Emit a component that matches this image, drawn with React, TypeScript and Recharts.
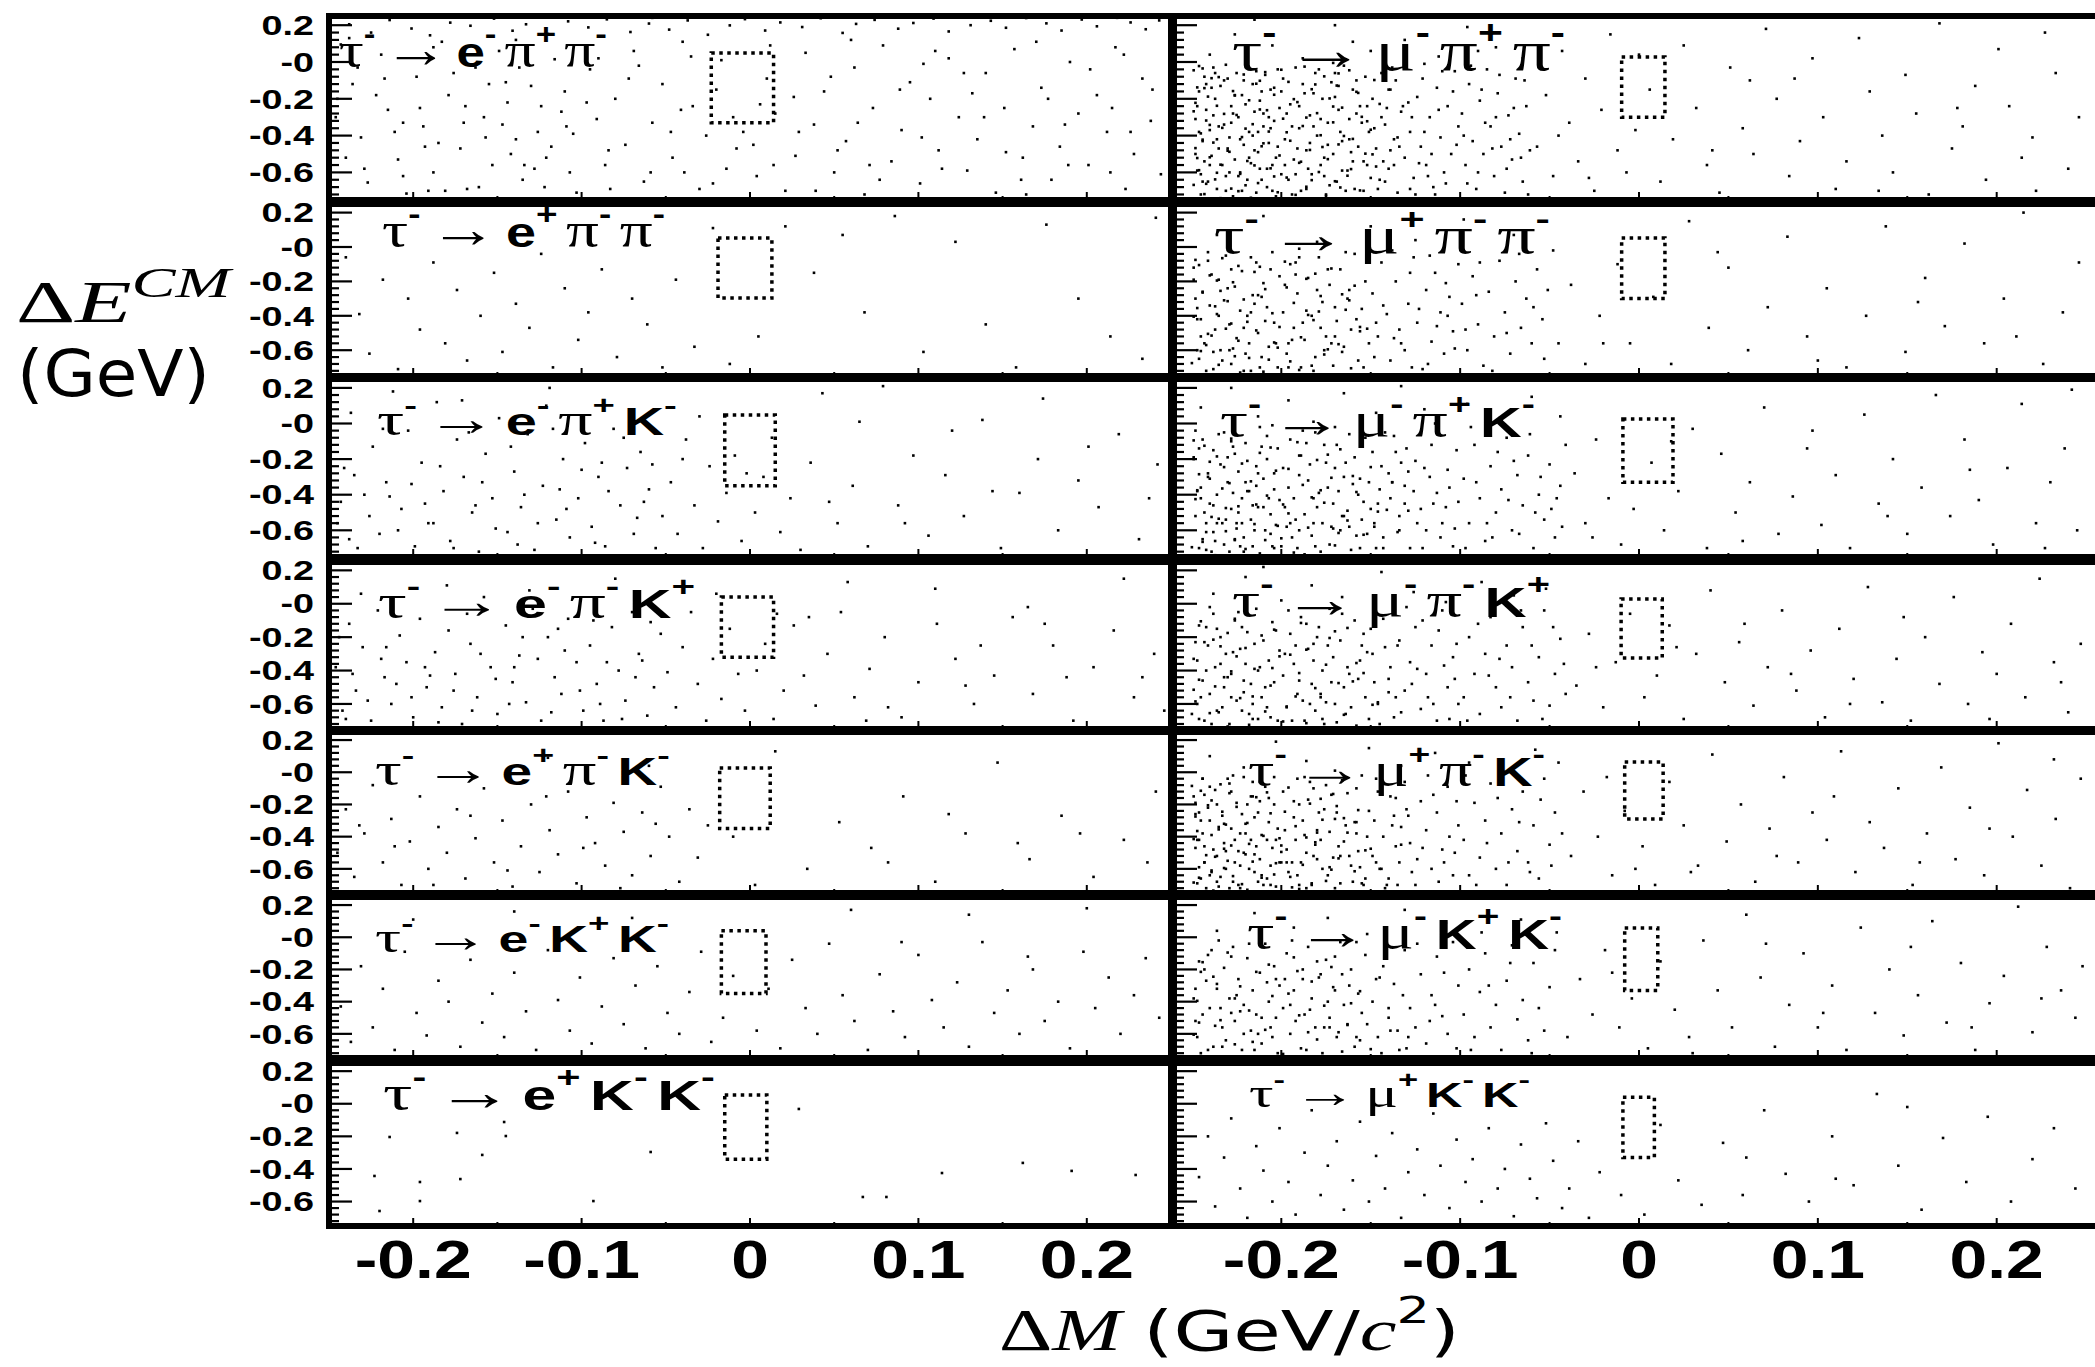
import React, { useLayoutEffect, useRef, useState } from 'react';
import { ScatterChart, Scatter, XAxis, YAxis, ReferenceArea } from 'recharts';

// ---------------- axes (GeV) ----------------
const dMDomainE = [-0.25, 0.25];
const dMDomainMu = [-0.26, 0.26];
const dEDomain = [-0.75, 0.25];
const dMTicks = [-0.2, -0.15, -0.1, -0.05, 0, 0.05, 0.1, 0.15, 0.2];
const dMLabelled = [-0.2, -0.1, 0, 0.1, 0.2];
const dETicks = [0.24, 0.2, 0.16, 0.12, 0.08, 0.04, 0, -0.04, -0.08, -0.12, -0.16, -0.2, -0.24, -0.28, -0.32, -0.36, -0.4, -0.44, -0.48, -0.52, -0.56, -0.6, -0.64, -0.68, -0.72];
const dELabelled = [0.2, 0, -0.2, -0.4, -0.6];

// ---------------- signal boxes [dM lo, dM hi, dE lo, dE hi] (GeV) ----------------
const boxEPiPlusPiMinus = [-0.023, 0.014, -0.33, 0.049];
const boxEPlusPiMinusPiMinus = [-0.019, 0.013, -0.297, 0.052];
const boxEPiPlusKMinus = [-0.015, 0.015, -0.35, 0.048];
const boxEPiMinusKPlus = [-0.017, 0.014, -0.32, 0.04];
const boxEPlusPiMinusKMinus = [-0.018, 0.012, -0.35, 0.026];
const boxEKPlusKMinus = [-0.017, 0.0095, -0.35, 0.04];
const boxEPlusKMinusKMinus = [-0.015, 0.01, -0.34, 0.054];
const boxMuPiPlusPiMinus = [-0.0097, 0.0145, -0.3, 0.027];
const boxMuPlusPiMinusPiMinus = [-0.0097, 0.0145, -0.3, 0.052];
const boxMuPiPlusKMinus = [-0.009, 0.019, -0.33, 0.025];
const boxMuPiMinusKPlus = [-0.01, 0.013, -0.325, 0.028];
const boxMuPlusPiMinusKMinus = [-0.008, 0.0135, -0.29, 0.064];
const boxMuKPlusKMinus = [-0.008, 0.0105, -0.33, 0.057];
const boxMuPlusKMinusKMinus = [-0.009, 0.0086, -0.33, 0.04];

// ---------------- candidate events [dM, dE] in MeV ----------------
const evEPiPlusPiMinus = [
[-238,205],[-225,160],[-214,228],[-201,182],[-190,145],[-178,214],[-166,197],[-152,236],[-141,170],[-133,205],[-120,152],[-108,221],[-96,188],[-85,232],[-71,163],[-60,209],[-48,176],[-37,226],[-25,148],[-12,199],[-3,233],[9,171],[18,215],[31,190],[42,238],[55,158],[63,207],[74,229],[88,181],[97,212],[109,236],[118,166],[131,200],[143,224],[152,186],[164,239],[176,210],[185,171],[197,231],[206,194],[218,240],[226,215],[235,178],[243,226],[-58,240],
[-243,95],[-236,-120],[-231,-410],[-227,-655],[-219,40],[-215,-260],[-209,-530],[-204,-715],[-198,-80],[-194,-350],[-188,-600],[-183,110],[-179,-180],[-172,-470],[-168,-690],[-163,-30],[-158,-300],[-153,-560],[-149,60],[-144,-220],[-139,-420],[-135,-640],[-130,-130],[-126,-380],[-121,-520],[-116,15],[-112,-270],[-107,-600],[-103,-710],[-246,-300],[-240,-520],[-222,-180],[-211,-380],[-196,-250],[-185,-440],[-176,-60],[-161,-680],[-147,-340],[-137,-30],[-128,-580],[-118,-460],[-110,-160],[-233,-30],[-206,-620],[-191,-700],[-170,-330],[-155,-120],[-142,-500],[-124,-240],[-105,-390],
[-95,-40],[-91,-310],[-86,-560],[-80,-200],[-74,-450],[-69,60],[-63,-650],[-58,-330],[-52,-120],[-46,-520],[-41,-260],[-35,30],[-30,-690],[-26,-400],[-20,-150],[-14,-580],[-8,-470],[-4,-380],[4,-620],[10,-90],[15,-280],[21,-700],[27,-510],[33,50],[38,-340],[44,-160],[50,-600],[57,-430],[62,-30],[68,-720],[73,-250],[79,90],[84,-540],[90,-370],[95,-110],[101,-660],[107,-200],[112,-480],[118,20],[124,-300],[129,-590],[135,-420],[140,-60],[146,-710],[151,-250],[157,70],[162,-520],[168,-350],[173,-140],[179,-640],[184,-460],[190,0],[195,-280],[201,-560],[206,-180],[212,-380],[217,80],[223,-690],[228,-500],[233,-90],[238,-320],[244,-610],[-83,-690],[-66,-20],[-39,-600],[-17,10],[6,-230],[29,-380],[48,-80],[71,-560],[103,-10],[132,-170],[161,-640],[187,-340],[215,-250],
[-245,-200],[-229,-580],[-217,-90],[-206,-330],[-193,-460],[-181,-700],[-169,-240],[-157,-410],[-145,-110],[-134,-560],[-122,-680],[-109,-350],[-97,-220],[-84,-480],[-72,-90],[-59,-600],[-47,-380],[-34,-240],[-22,-660],[-10,-300],[2,-450],[14,-560],[26,-190],[39,-700],[52,-480],[64,-330],[77,-640],[89,-150],[102,-410],[114,-580],[127,-60],[139,-300],[152,-490],[164,-720],[177,-200],[189,-560],[202,-40],[214,-600],[226,-380],[239,-150],[-238,130],[-188,80],[-139,120],[-90,20],[-40,110],[12,90],[60,120],[110,60],[170,110],[222,40]
];
const evEPlusPiMinusPiMinus = [
[-240,-60],[-232,-390],[-226,-620],[-218,-190],[-209,-710],[-203,-300],[-196,-480],[-188,-90],[-181,-560],[-174,-250],[-168,-660],[-160,-400],[-152,-150],[-147,-610],[-139,-330],[-131,-470],[-124,-40],[-117,-700],[-110,-240],[-102,-540],[-96,-380],[-88,-130],[-79,-640],[-70,-300],[-61,-450],[-52,-700],[-44,-190],[-33,-580],[-22,110],[-12,-680],[5,-520],[21,120],[38,-150],[55,70],[68,-380],[86,180],[103,-610],[122,30],[140,-450],[158,-700],[176,130],[195,-300],[214,-520],[233,-650],[241,170]
];
const evEPiPlusKMinus = [
[-245,-560],[-241,-250],[-237,60],[-233,-700],[-229,-400],[-224,-130],[-220,-620],[-216,-330],[-212,180],[-207,-480],[-203,-40],[-199,-690],[-195,-220],[-191,-560],[-186,120],[-182,-380],[-178,-660],[-174,-90],[-170,-300],[-165,-500],[-161,-720],[-157,-170],[-153,-420],[-149,30],[-144,-610],[-140,-270],[-136,-470],[-132,-60],[-128,-710],[-123,-350],[-119,200],[-115,-540],[-111,-200],[-107,-640],[-102,-420],[-98,-110],[-94,-580],[-90,-300],[-86,-690],[-81,-30],[-77,-460],[-73,-250],[-69,-620],[-65,-160],[-60,-370],[-56,-700],[-52,-520],[-243,-440],[-235,-290],[-226,-520],[-218,-30],[-209,-600],[-201,-340],[-193,-450],[-184,-240],[-176,-700],[-167,-50],[-159,-330],[-151,-590],[-142,-130],[-134,-400],[-126,-560],[-117,-30],[-109,-480],[-100,-260],[-92,-670],[-84,-380],[-75,-80],[-67,-530],[-58,-230],[-238,-650],[-214,-410],[-188,-560],[-163,-460],[-138,-680],[-113,-370],[-88,-220],[-63,-440],[-171,130],[-121,100],
[-47,-330],[-43,-620],[-38,-90],[-33,-460],[-28,-700],[-24,-240],[-19,-550],[-14,-390],[-9,-180],[-5,-660],[3,-500],[8,-300],[13,-80],[18,-610],[24,-420],[30,-710],[36,-220],[43,170],[52,-560],[61,-350],[70,-690],[79,210],[88,-460],[97,-180],[106,-630],[116,-290],[127,-520],[138,20],[149,-700],[160,-390],[171,-200],[183,-600],[195,-320],[207,-470],[219,-60],[231,-650],[242,-230],[-40,-200],[-2,-280],[47,-440],[92,-560],[144,-380],[201,-130],[237,-420],[65,10],[120,-40],[174,140],[-30,40]
];
const evEPiMinusKPlus = [
[-246,-380],[-242,-640],[-238,-120],[-234,-520],[-230,-260],[-225,-700],[-221,-40],[-217,-440],[-213,-600],[-208,-190],[-204,-350],[-200,-680],[-196,-90],[-192,-500],[-187,-290],[-183,-620],[-179,-160],[-175,-420],[-171,-720],[-166,-240],[-162,-560],[-158,40],[-154,-380],[-150,-660],[-145,-130],[-141,-470],[-137,-310],[-133,-590],[-129,-30],[-124,-700],[-120,-200],[-116,-440],[-112,-540],[-108,-90],[-103,-350],[-99,-640],[-95,-250],[-91,-480],[-87,-700],[-82,-140],[-78,-400],[-74,-580],[-70,-50],[-66,-300],[-61,-670],[-57,-500],[-53,-180],[-49,-410],[-244,-200],[-236,-420],[-227,-580],[-219,-330],[-210,-480],[-201,-560],[-193,-380],[-185,-710],[-176,-520],[-168,-60],[-160,-300],[-151,-450],[-143,-600],[-135,-200],[-126,-330],[-118,-650],[-110,-280],[-101,-520],[-93,-100],[-85,-350],[-76,-690],[-68,-440],[-59,-110],[-240,-690],[-216,-260],[-190,-430],[-165,-640],[-140,-380],[-114,-150],[-89,-600],[-64,-340],[-231,60],[-180,110],[-131,80],[-80,150],
[-44,-620],[-40,-260],[-35,-50],[-31,-480],[-26,-700],[-22,-330],[-17,-570],[-12,-150],[-7,-420],[-3,-640],[4,-400],[9,-240],[14,-690],[20,-520],[26,-130],[32,-430],[39,-610],[46,-300],[54,-50],[62,-560],[71,-390],[80,-200],[90,-680],[100,-470],[111,-120],[122,-330],[133,-600],[145,-430],[156,-80],[168,-540],[180,-250],[192,-700],[204,-380],[216,-160],[228,-560],[240,-300],[58,130],[110,90],[165,-20],[222,150],[-20,60],[35,-80],[82,-620],[137,-250],[188,-440],[246,-640],[16,-60],[69,-700],[128,-490],[175,-120],[233,-440]
];
const evEPlusPiMinusKMinus = [
[-245,-500],[-240,-230],[-235,-650],[-229,-380],[-224,-80],[-218,-560],[-213,-290],[-207,-700],[-202,-430],[-196,-150],[-191,-600],[-185,-340],[-180,-500],[-174,-230],[-169,-660],[-163,-410],[-158,-100],[-152,-560],[-147,-300],[-141,-710],[-136,-460],[-130,-200],[-125,-620],[-119,-360],[-114,-510],[-108,-120],[-103,-690],[-97,-280],[-92,-440],[-86,-580],[-81,-190],[-75,-370],[-70,-640],[-64,-250],[-59,-520],[-53,-90],[-48,-400],[-42,-680],[-36,-230],[-31,-530],[-25,-330],[-232,-330],[-211,-460],[-188,-700],[-166,-270],[-144,-610],[-121,-150],[-99,-470],[-77,-720],[-56,-320],[-120,90],[-60,40],
[15,130],[34,-600],[53,-310],[72,-470],[91,-150],[110,-680],[128,-380],[147,60],[166,-540],[185,-270],[204,-650],[222,-420],[241,-120],[3,-700],[82,-560],[159,-440],[-10,-400],[118,-260],[196,-380],[236,-560]
];
const evEKPlusKMinus = [
[-243,-430],[-237,-650],[-231,-180],[-224,-560],[-218,-320],[-211,-700],[-205,-90],[-198,-470],[-192,-610],[-185,-270],[-179,-400],[-172,-680],[-166,-140],[-159,-530],[-153,-350],[-146,-620],[-140,-220],[-133,-460],[-127,-700],[-120,-80],[-114,-390],[-107,-580],[-101,-250],[-94,-660],[-88,-430],[-81,-130],[-75,-540],[-68,-300],[-62,-690],[-55,-180],[-49,-470],[-42,-600],[-36,-340],[-29,-90],[-23,-650],[-16,-500],[-10,-240],[4,-580],[11,-320],[18,-690],[25,-140],[33,-440],[40,-600],[47,-40],[55,-360],[62,-520],[70,-700],[77,-230],[85,-460],[92,-620],[100,-110],[108,-390],[115,-560],[123,-280],[130,-680],[138,-30],[145,-470],[153,-330],[160,-600],[168,-200],[175,-520],[183,-400],[190,-690],[198,-90],[205,-440],[213,-250],[220,-600],[228,-360],[235,-130],[243,-500],[-200,110],[-140,160],[-70,120],[60,170],[130,140],[200,180],[90,-30],[165,-120]
];
const evEPlusKMinusKMinus = [
[-214,-204],[-174,-179],[-146,-112],[-145,-198],[-159,-314],[-59,-296],[-223,-443],[-196,-480],[-172,-462],[-93,-597],[-196,-597],[-220,-658],[29,-32],[162,-363],[191,-412],[114,-425],[229,-437],[67,-572],[81,-572]
];

const evMuPiPlusPiMinus = [
[-249,-45],[-248,-310],[-247,-590],[-246,-160],[-245,-720],[-244,-430],[-243,-80],[-242,-260],[-241,-650],[-240,-370],[-239,-510],[-238,-30],[-237,-200],[-236,-690],[-235,-470],[-234,-130],[-233,-560],[-232,-340],[-231,-620],[-230,-90],[-229,-410],[-228,-240],[-227,-730],[-226,-530],[-225,-60],[-224,-300],[-223,-600],[-222,-180],[-221,-450],[-220,-670],[-219,-20],[-218,-380],[-217,-550],[-216,-120],[-215,-270],[-214,-710],[-213,-490],[-212,-210],[-211,-640],[-210,-350],[-209,-70],[-208,-580],[-207,-440],[-206,-150],[-205,-700],[-204,-320],[-203,-520],[-202,-40],[-201,-250],[-200,-610],
[-248,-500],[-246,-380],[-244,-650],[-242,-120],[-240,-560],[-238,-290],[-236,-420],[-234,-740],[-232,-100],[-230,-470],[-228,-330],[-226,-180],[-224,-620],[-222,-700],[-220,-230],[-218,-520],[-216,-400],[-214,-50],[-212,-580],[-210,-280],[-208,-680],[-206,-360],[-204,-140],[-202,-460],[-247,-240],[-243,-540],[-239,-140],[-235,-350],[-231,-700],[-227,-280],[-223,-420],[-219,-640],[-215,-480],[-211,-160],[-207,-300],[-203,-730],[-245,-610],[-237,-60],[-229,-600],[-221,-100],[-213,-380],[-205,-560],
[-199,-90],[-198,-420],[-196,-640],[-195,-230],[-193,-530],[-192,-30],[-190,-360],[-189,-700],[-187,-170],[-186,-480],[-184,-290],[-183,-610],[-181,-60],[-180,-400],[-178,-560],[-177,-200],[-175,-720],[-174,-330],[-172,-110],[-171,-500],[-169,-650],[-168,-260],[-166,-430],[-165,-20],[-163,-590],[-162,-310],[-160,-150],[-159,-690],[-157,-460],[-156,-240],[-154,-540],[-153,-80],[-151,-380],[-150,-630],
[-197,-280],[-194,-720],[-191,-470],[-188,-120],[-185,-580],[-182,-350],[-179,-40],[-176,-520],[-173,-670],[-170,-190],[-167,-380],[-164,-700],[-161,-490],[-158,-100],[-155,-330],[-152,-560],[-198,-560],[-190,-240],[-182,-170],[-174,-450],[-166,-590],[-158,-280],[-194,-350],[-186,-690],[-178,-310],[-170,-60],[-162,-420],[-154,-700],[-200,-160],[-184,-440],[-168,-130],[-152,-240],[-176,-620],[-160,-540],[-192,-610],[-171,-5],
[-149,-200],[-147,-470],[-146,-690],[-144,-60],[-142,-340],[-140,-580],[-139,-150],[-137,-420],[-135,-710],[-133,-270],[-131,-520],[-130,-30],[-128,-380],[-126,-630],[-124,-190],[-122,-460],[-121,-90],[-119,-560],[-117,-300],[-115,-680],[-113,-140],[-111,-410],[-109,-600],[-107,-240],[-105,-500],[-103,-50],[-101,-350],
[-148,-360],[-143,-540],[-138,-30],[-134,-460],[-129,-220],[-125,-720],[-120,-380],[-116,-500],[-112,-260],[-108,-660],[-104,-160],[-145,-640],[-136,-100],[-127,-300],[-118,-620],[-110,-50],[-102,-450],[-141,-250],[-123,-550],[-114,-720],
[-99,-280],[-97,-560],[-95,-120],[-93,-430],[-91,-690],[-89,-210],[-87,-500],[-85,-40],[-83,-350],[-81,-620],[-79,-170],[-77,-460],[-75,-710],[-73,-290],[-71,-530],[-69,-90],[-67,-390],[-65,-650],[-63,-240],[-61,-480],
[-98,-400],[-94,-20],[-90,-600],[-86,-330],[-82,-470],[-78,-70],[-74,-580],[-70,-250],[-66,-520],[-62,-720],[-96,-660],[-88,-150],[-80,-300],[-72,-420],[-64,-100],
[-57,-460],[-52,-180],[-48,-620],[-43,60],[-39,-330],[-34,-540],[-30,-90],[-25,-700],[-21,-260],[-16,150],[-12,-480],[-7,-600],[-2,-370],[6,-150],[12,-650],[19,-420],[25,90],[32,-250],[38,-560],[45,-710],[51,-30],[58,-360],[64,-500],[71,180],[77,-200],[84,-620],[90,-430],[97,20],[103,-300],[110,-690],[116,-540],[123,130],[129,-160],[136,-400],[142,-600],[149,-70],[155,-280],[162,-720],[168,210],[175,-470],[181,-350],[188,-130],[194,-640],[201,70],[207,-240],[214,-520],[220,-410],[227,160],[233,-60],[240,-580],[246,-300],[-45,-400],[0,40],[41,-480],[87,-90],[134,-700],[178,-250],[222,-700],[-28,-630],[62,-100],
[-240,40],[-226,150],[-205,90],[-188,20],[-170,200],[-150,60],[-131,120],[-112,30],[-96,190],[-80,80],[-65,20],[-215,230],[-160,110],[-120,-10],[-90,60],
[-231,-15],[-187,-25],[-244,-35],[-162,-45],[-209,-55],[-221,-68],[-176,-78],[-239,-88],[-148,-98],[-196,-108],[-214,-118],[-169,-128],[-247,-138],[-183,-148],[-227,-158],[-157,-168],[-204,-178],[-241,-188],[-173,-198],[-218,-208],[-191,-218],[-145,-228],[-236,-238],[-166,-248],[-212,-258],[-249,-268],[-180,-278],[-225,-288],[-155,-298],[-199,-308],[-242,-318],[-171,-328],[-216,-338],[-188,-348],[-233,-358],[-150,-368],[-207,-378],[-245,-388],[-178,-398],[-222,-408],[-160,-418],[-195,-428],[-238,-438],[-168,-448],[-211,-458],[-248,-468],[-184,-478],[-229,-488],[-153,-498],[-201,-508],[-240,-518],[-174,-528],[-219,-538],[-190,-548],[-234,-558],[-147,-568],[-206,-578],[-246,-588],[-179,-598],[-223,-608],[-163,-618],[-197,-628],[-237,-638],[-170,-648],[-213,-658],[-249,-668],[-186,-678],[-228,-688],[-156,-698],[-202,-708],[-243,-718],[-175,-728],[-217,-738],
[-246,-22],[-200,-42],[-168,-62],[-235,-82],[-212,-102],[-181,-122],[-243,-142],[-158,-162],[-226,-182],[-193,-202],[-248,-222],[-171,-242],[-208,-262],[-232,-282],[-186,-302],[-152,-322],[-240,-342],[-220,-362],[-197,-382],[-165,-402],[-244,-422],[-210,-442],[-177,-462],[-230,-482],[-149,-502],[-247,-522],[-189,-542],[-215,-562],[-161,-582],[-236,-602],[-204,-622],[-183,-642],[-242,-662],[-167,-682],[-224,-702],[-192,-722],[-248,-742],[-140,-150],[-135,-410],[-142,-650],[-137,-560],[-132,-240],[-144,-300],[-128,-690],[-139,-480]
];
const evMuPlusPiMinusPiMinus = [
[-249,-120],[-247,-420],[-246,-650],[-244,-260],[-243,-560],[-241,-80],[-240,-340],[-238,-710],[-237,-480],[-235,-190],[-234,-600],[-232,-310],[-231,-50],[-229,-450],[-228,-680],[-226,-230],[-225,-530],[-223,-370],[-222,-140],[-220,-620],[-219,-400],[-217,-720],[-216,-280],[-214,-90],[-213,-500],[-211,-640],[-210,-210],[-208,-350],[-207,-580],[-205,-30],[-204,-440],[-202,-700],[-201,-170],
[-248,-300],[-245,-520],[-242,-720],[-239,-160],[-236,-390],[-233,-660],[-230,-240],[-227,-590],[-224,-110],[-221,-470],[-218,-560],[-215,-330],[-212,-700],[-209,-430],[-206,-130],[-203,-560],[-247,-600],[-241,-30],[-235,-400],[-229,-600],[-223,-730],[-217,-60],[-211,-290],
[-199,-380],[-197,-620],[-195,-100],[-193,-470],[-191,-270],[-189,-700],[-187,-540],[-185,-180],[-183,-400],[-181,-640],[-179,-60],[-177,-320],[-175,-520],[-173,-220],[-171,-690],[-169,-430],[-167,-130],[-165,-580],[-163,-300],[-161,-480],[-159,-40],[-157,-660],[-155,-360],[-153,-200],[-151,-560],
[-198,-220],[-194,-540],[-190,-60],[-186,-370],[-182,-720],[-178,-470],[-174,-130],[-170,-350],[-166,-610],[-162,-250],[-158,-420],[-154,-700],[-196,-700],[-188,-440],[-180,-250],[-172,-560],[-164,-30],[-156,-490],[-192,-160],[-176,-600],
[-149,-270],[-146,-520],[-144,-90],[-141,-390],[-139,-660],[-136,-200],[-134,-480],[-131,-600],[-129,-330],[-126,-60],[-124,-440],[-121,-710],[-119,-250],[-116,-550],[-114,-150],[-111,-380],[-109,-620],[-106,-290],[-104,-490],[-101,-100],
[-148,-640],[-143,-340],[-138,-20],[-133,-560],[-128,-150],[-123,-360],[-118,-680],[-113,-460],[-108,-210],[-103,-590],[-147,-440],[-137,-530],[-127,-700],[-117,-50],[-107,-400],
[-99,-330],[-96,-600],[-93,-170],[-90,-450],[-87,-690],[-84,-260],[-81,-520],[-78,-80],[-75,-380],[-72,-620],[-69,-200],[-66,-470],[-63,-300],[-60,-560],[-57,-130],[-54,-420],[-51,-250],[-97,-480],[-89,-90],[-82,-720],[-74,-500],[-67,-40],[-59,-350],[-53,-650],[-91,-280],
[-45,-560],[-38,-220],[-30,-680],[-22,-400],[-12,-100],[-5,-560],[8,-290],[18,-680],[28,150],[39,-470],[50,-120],[61,-600],[72,-350],[83,60],[94,-520],[105,-240],[116,-700],[127,-400],[138,120],[149,-610],[160,-180],[171,-460],[182,20],[193,-560],[204,-300],[215,200],[226,-680],[237,-380],[246,-90],[-20,-560],[44,-30],[100,-660],[156,-320],[211,-520],[-48,-20],
[-236,70],[-210,180],[-180,30],[-150,120],[-125,40],[-98,160],[-70,70],[-190,-10],
[-233,-65],[-198,-85],[-246,-105],[-172,-125],[-215,-145],[-240,-165],[-186,-185],[-227,-205],[-159,-225],[-209,-245],[-244,-265],[-178,-285],[-221,-305],[-193,-325],[-237,-345],[-164,-365],[-205,-385],[-249,-405],[-182,-425],[-228,-445],[-156,-465],[-214,-485],[-241,-505],[-189,-525],[-224,-545],[-168,-565],[-202,-585],[-245,-605],[-176,-625],[-218,-645],[-195,-665],[-235,-685],[-161,-705],[-210,-725],[-243,-740],
[-248,-75],[-212,-115],[-181,-155],[-236,-195],[-197,-235],[-166,-275],[-230,-315],[-247,-355],[-185,-395],[-219,-435],[-152,-475],[-239,-515],[-204,-555],[-174,-595],[-226,-635],[-250,-675],[-190,-715],[-234,-255],[-201,-465],[-242,-570],[-217,-380],[-170,-520],[-228,-130],[-183,-690],[-245,-420],[-207,-655],[-162,-310],[-238,-610],[-192,-90],[-221,-720],[-249,-190],[-179,-375],[-213,-280],[-231,-475],[-196,-560]
];
const evMuPiPlusKMinus = [
[-249,-200],[-248,-520],[-246,-700],[-245,-360],[-244,-90],[-242,-610],[-241,-280],[-240,-450],[-238,-150],[-237,-660],[-236,-400],[-234,-230],[-233,-560],[-232,-50],[-230,-330],[-229,-720],[-228,-480],[-226,-170],[-225,-590],[-224,-270],[-222,-420],[-221,-640],[-220,-110],[-218,-380],[-217,-540],[-216,-690],[-214,-240],[-213,-470],[-212,-20],[-210,-310],[-209,-600],[-208,-200],[-206,-510],[-205,-690],[-204,-370],[-202,-140],[-201,-430],
[-247,-380],[-243,-500],[-239,-720],[-235,-60],[-231,-540],[-227,-390],[-223,-690],[-219,-210],[-215,-600],[-211,-130],[-207,-420],[-203,-570],[-248,-40],[-244,-650],[-240,-310],[-236,-560],[-232,-680],[-228,-100],[-224,-500],[-220,-330],[-216,-460],[-212,-730],[-208,-70],[-204,-280],[-246,-140],[-238,-460],[-230,-190],[-222,-560],[-214,-350],[-206,-620],[-242,-710],[-226,-650],[-210,-470],
[-199,-250],[-197,-580],[-195,-90],[-193,-420],[-191,-700],[-189,-180],[-187,-510],[-185,-320],[-183,-630],[-181,-50],[-179,-390],[-177,-560],[-175,-220],[-173,-680],[-171,-450],[-169,-120],[-167,-600],[-165,-300],[-163,-490],[-161,-710],[-159,-190],[-157,-400],[-155,-540],[-153,-80],[-151,-330],
[-198,-470],[-194,-640],[-190,-290],[-186,-110],[-182,-560],[-178,-720],[-174,-360],[-170,-250],[-166,-520],[-162,-60],[-158,-630],[-154,-440],[-196,-360],[-188,-40],[-180,-470],[-172,-580],[-164,-220],[-156,-700],[-192,-540],[-176,-120],[-160,-340],[-200,-690],[-184,-230],[-168,-380],[-152,-620],[-190,-600],[-170,-20],[-150,-480],[-182,-420],[-162,-580],
[-149,-160],[-146,-450],[-143,-640],[-140,-280],[-137,-70],[-134,-520],[-131,-350],[-128,-700],[-125,-210],[-122,-480],[-119,-600],[-116,-120],[-113,-390],[-110,-560],[-107,-260],[-104,-690],[-101,-440],
[-148,-560],[-144,-240],[-139,-420],[-135,-610],[-130,-140],[-126,-380],[-121,-700],[-117,-300],[-112,-50],[-108,-470],[-103,-590],[-147,-700],[-138,-330],[-129,-490],[-120,-250],[-111,-640],[-102,-150],[-142,-50],[-124,-560],[-106,-360],[-133,-220],[-115,-450],[-145,-370],
[-98,-310],[-95,-560],[-92,-120],[-89,-420],[-86,-660],[-83,-240],[-80,-500],[-77,-370],[-74,-80],[-71,-600],[-68,-290],[-65,-460],[-62,-180],[-59,-700],[-56,-400],[-53,-540],[-50,-230],[-47,-640],[-44,-350],[-41,-120],
[-97,-700],[-91,-330],[-85,-560],[-79,-160],[-73,-430],[-67,-620],[-61,-60],[-55,-300],[-49,-480],[-43,-580],[-94,-20],[-82,-640],[-70,-210],[-58,-500],[-46,-420],
[-36,-280],[-30,-560],[-24,-90],[-17,-420],[-10,-680],[-3,-480],[7,-220],[14,-600],[22,-380],[30,-30],[38,-700],[46,-170],[54,-500],[62,-330],[70,90],[78,-620],[86,-410],[94,-140],[102,-570],[110,-290],[118,-700],[126,50],[134,-450],[142,-200],[150,-620],[158,-360],[166,160],[174,-520],[182,-90],[190,-430],[198,-680],[206,-250],[214,110],[222,-560],[230,-330],[238,-140],[245,-600],[-26,-640],[18,-100],[58,-660],[97,-40],[139,-520],[185,-260],[227,-700],[242,190],
[-245,90],[-228,200],[-213,40],[-196,130],[-182,10],[-165,170],[-147,60],[-133,210],[-114,0],[-96,110],[-78,30],[-60,150],[-44,40],[-205,-10],[-120,80],
[-228,-85],[-191,-105],[-243,-125],[-167,-145],[-212,-165],[-236,-185],[-180,-205],[-222,-225],[-150,-245],[-203,-265],[-246,-285],[-172,-305],[-217,-325],[-188,-345],[-233,-365],[-158,-385],[-208,-405],[-248,-425],[-176,-445],[-224,-465],[-141,-485],[-196,-505],[-239,-525],[-163,-545],[-215,-565],[-185,-585],[-231,-605],[-154,-625],[-200,-645],[-244,-665],[-170,-685],[-220,-705],[-193,-725],[-237,-740],
[-249,-95],[-206,-135],[-174,-175],[-240,-215],[-196,-255],[-160,-295],[-229,-335],[-247,-375],[-183,-415],[-214,-455],[-146,-495],[-235,-535],[-202,-575],[-168,-615],[-226,-655],[-250,-695],[-187,-735],[-232,-245],[-199,-455],[-242,-560],[-219,-380],[-165,-520],[-227,-130],[-181,-690],[-245,-420],[-209,-655],[-156,-310],[-238,-610],[-190,-180],[-221,-720],[-249,-190],[-178,-375],[-213,-280],[-231,-475],[-195,-560],[-134,-600],[-138,-330],[-131,-450],[-143,-700],[-136,-160],[-148,-580],[-129,-270],[-241,-300],[-204,-700],[-171,-590],[-225,-560]
];
const evMuPiMinusKPlus = [
[-249,-330],[-247,-600],[-246,-130],[-244,-460],[-243,-700],[-241,-250],[-240,-540],[-238,-60],[-237,-380],[-235,-650],[-234,-200],[-232,-500],[-231,-300],[-229,-720],[-228,-420],[-226,-100],[-225,-580],[-223,-270],[-222,-640],[-220,-360],[-219,-170],[-217,-480],[-216,-690],[-214,-30],[-213,-400],[-211,-560],[-210,-220],[-208,-620],[-207,-340],[-205,-110],[-204,-470],[-202,-700],[-201,-280],
[-248,-230],[-245,-560],[-242,-400],[-239,-720],[-236,-150],[-233,-620],[-230,-440],[-227,-290],[-224,-50],[-221,-530],[-218,-660],[-215,-240],[-212,-380],[-209,-500],[-206,-680],[-203,-160],[-246,-690],[-240,-20],[-234,-360],[-228,-560],[-222,-140],[-216,-600],
[-199,-430],[-197,-620],[-195,-180],[-193,-360],[-191,-540],[-189,-80],[-187,-700],[-185,-270],[-183,-480],[-181,-640],[-179,-140],[-177,-400],[-175,-590],[-173,-30],[-171,-320],[-169,-710],[-167,-220],[-165,-500],[-163,-380],[-161,-620],[-159,-100],[-157,-450],[-155,-250],[-153,-560],[-151,-690],
[-198,-300],[-194,-700],[-190,-460],[-186,-120],[-182,-340],[-178,-560],[-174,-250],[-170,-600],[-166,-60],[-162,-420],[-158,-730],[-154,-180],[-196,-40],[-188,-580],[-180,-200],[-172,-470],[-164,-660],[-156,-340],[-192,-250],[-176,-720],
[-149,-300],[-146,-600],[-143,-90],[-140,-450],[-137,-680],[-134,-220],[-131,-520],[-128,-350],[-125,-140],[-122,-630],[-119,-420],[-116,-250],[-113,-700],[-110,-40],[-107,-500],[-104,-320],[-101,-600],
[-148,-470],[-142,-260],[-136,-560],[-130,-20],[-124,-390],[-118,-560],[-112,-160],[-106,-690],[-102,-240],[-145,-720],[-133,-650],[-121,-100],[-109,-370],[-139,-380],[-127,-480],[-115,-600],[-103,-450],[-150,-150],
[-98,-560],[-95,-200],[-92,-420],[-89,-660],[-86,-300],[-83,-80],[-80,-500],[-77,-620],[-74,-250],[-71,-380],[-68,-700],[-65,-140],[-62,-470],[-59,-580],[-56,-320],[-53,-40],[-50,-610],[-47,-420],[-44,-210],[-41,-540],
[-96,-700],[-90,-120],[-84,-430],[-78,-330],[-72,-560],[-66,-40],[-60,-250],[-54,-690],[-48,-140],[-42,-360],
[-35,-490],[-28,-180],[-20,-620],[-13,-350],[-5,-60],[3,-560],[10,-430],[17,-130],[25,-690],[32,-300],[40,80],[48,-470],[56,-230],[64,-610],[72,-380],[80,-40],[88,-520],[96,-280],[104,-680],[112,-150],[120,-450],[128,100],[136,-590],[144,-330],[152,-700],[160,-200],[168,-480],[176,40],[184,-600],[192,-290],[200,-420],[208,-120],[216,-560],[224,150],[232,-350],[240,-650],[247,-240],[-24,-380],[21,-260],[59,-120],[85,-420],[118,-600],[148,-80],[196,-690],[236,-470],
[-238,60],[-220,160],[-200,20],[-183,110],[-166,40],[-144,190],[-126,70],[-108,10],[-88,130],[-70,50],[-52,90],[-210,220],
[-226,-90],[-189,-115],[-242,-140],[-170,-165],[-211,-190],[-238,-215],[-182,-240],[-220,-265],[-152,-290],[-201,-315],[-247,-340],[-175,-365],[-215,-390],[-190,-415],[-232,-440],[-160,-465],[-206,-490],[-249,-515],[-178,-540],[-223,-565],[-146,-590],[-197,-615],[-236,-640],[-165,-665],[-213,-690],[-186,-715],[-230,-735],
[-245,-105],[-204,-155],[-173,-205],[-234,-255],[-195,-305],[-158,-355],[-228,-405],[-246,-455],[-181,-505],[-216,-555],[-149,-605],[-240,-655],[-199,-705],[-168,-475],[-225,-315],[-248,-585],[-186,-275],[-209,-645],[-237,-495],[-163,-145],[-218,-725],[-192,-555],[-243,-230],[-177,-690],[-230,-175],[-154,-415],[-205,-385],[-250,-660],[-184,-600],[-221,-460],[-140,-530],[-135,-250]
];
const evMuPlusPiMinusKMinus = [
[-249,-150],[-248,-470],[-247,-690],[-245,-300],[-244,-40],[-243,-560],[-241,-220],[-240,-640],[-239,-390],[-237,-110],[-236,-520],[-235,-710],[-233,-270],[-232,-440],[-231,-600],[-229,-70],[-228,-350],[-227,-680],[-225,-190],[-224,-490],[-223,-580],[-221,-30],[-220,-320],[-219,-730],[-217,-420],[-216,-150],[-215,-620],[-213,-250],[-212,-540],[-211,-390],[-209,-90],[-208,-660],[-207,-310],[-205,-470],[-204,-200],[-203,-710],[-201,-560],
[-248,-260],[-246,-590],[-244,-380],[-242,-720],[-240,-90],[-238,-480],[-236,-200],[-234,-650],[-232,-320],[-230,-550],[-228,-120],[-226,-420],[-224,-700],[-222,-260],[-220,-510],[-218,-600],[-216,-60],[-214,-460],[-212,-180],[-210,-700],[-208,-420],[-206,-580],[-204,-30],[-202,-350],[-247,-420],[-243,-140],[-239,-620],[-235,-340],[-231,-490],[-227,-20],[-223,-380],[-219,-200],[-215,-510],[-211,-640],[-207,-160],[-203,-420],[-245,-660],[-229,-720],[-213,-680],
[-199,-120],[-197,-480],[-195,-650],[-193,-280],[-191,-40],[-189,-560],[-187,-390],[-185,-170],[-183,-700],[-181,-450],[-179,-250],[-177,-600],[-175,-80],[-173,-370],[-171,-530],[-169,-210],[-167,-690],[-165,-430],[-163,-130],[-161,-580],[-159,-310],[-157,-490],[-155,-20],[-153,-660],[-151,-240],
[-198,-360],[-194,-560],[-190,-200],[-186,-720],[-182,-100],[-178,-420],[-174,-640],[-170,-290],[-166,-50],[-162,-520],[-158,-380],[-154,-700],[-196,-620],[-188,-300],[-180,-540],[-172,-140],[-164,-330],[-156,-590],[-192,-420],[-176,-230],[-160,-680],[-184,-60],[-168,-460],[-152,-400],[-200,-560],[-186,-500],[-170,-720],[-158,-100],[-190,-700],[-180,-360],
[-149,-520],[-146,-120],[-143,-400],[-140,-660],[-137,-270],[-134,-560],[-131,-60],[-128,-440],[-125,-700],[-122,-180],[-119,-360],[-116,-600],[-113,-250],[-110,-480],[-107,-90],[-104,-640],[-101,-330],
[-148,-300],[-142,-720],[-136,-460],[-130,-230],[-124,-540],[-118,-20],[-112,-680],[-106,-400],[-102,-180],[-145,-600],[-133,-340],[-121,-470],[-109,-560],[-139,-150],[-127,-620],[-115,-140],[-103,-500],[-147,-40],[-135,-700],
[-98,-420],[-95,-640],[-92,-190],[-89,-530],[-86,-300],[-83,-70],[-80,-600],[-77,-380],[-74,-700],[-71,-230],[-68,-490],[-65,-120],[-62,-560],[-59,-330],[-56,-660],[-53,-40],[-50,-450],[-47,-250],
[-97,-20],[-91,-700],[-85,-440],[-79,-160],[-73,-560],[-67,-310],[-61,-620],[-55,-170],[-49,-580],[-43,-380],
[-38,-520],[-31,-120],[-23,-400],[-15,-640],[-8,-240],[2,-460],[9,-700],[17,-60],[25,-330],[33,-580],[41,110],[49,-430],[57,-200],[65,-680],[73,-350],[81,-30],[89,-560],[97,-250],[105,-420],[113,130],[121,-620],[129,-310],[137,-470],[145,-100],[153,-700],[161,-380],[169,30],[177,-540],[185,-220],[193,-640],[201,180],[209,-400],[217,-110],[225,-580],[233,-290],[241,-720],[247,-40],[-18,-30],[29,-620],[77,-520],[109,-150],[157,-560],[196,-350],[232,80],[-2,-600],
[-240,100],[-221,30],[-203,190],[-186,70],[-170,10],[-151,150],[-133,40],[-114,120],[-95,60],[-77,20],[-58,140],[-45,60],
[-234,-75],[-196,-95],[-245,-115],[-171,-135],[-214,-155],[-239,-175],[-184,-195],[-225,-215],[-157,-235],[-206,-255],[-248,-275],[-177,-295],[-219,-315],[-192,-335],[-235,-355],[-163,-375],[-210,-395],[-249,-415],[-181,-435],[-228,-455],[-150,-475],[-200,-495],[-242,-515],[-168,-535],[-216,-555],[-188,-575],[-232,-595],[-159,-615],[-204,-635],[-246,-655],[-175,-675],[-222,-695],[-194,-715],[-238,-735],
[-250,-85],[-208,-125],[-178,-165],[-241,-205],[-198,-245],[-165,-285],[-231,-325],[-247,-365],[-186,-405],[-218,-445],[-153,-485],[-237,-525],[-203,-565],[-172,-605],[-227,-645],[-249,-685],[-190,-725],[-233,-245],[-200,-455],[-243,-560],[-220,-380],[-167,-520],[-229,-130],[-183,-690],[-246,-420],[-211,-655],[-158,-310],[-239,-610],[-193,-180],[-223,-720],[-248,-190],[-180,-375],[-215,-280],[-232,-475],[-197,-560],[-144,-600],[-138,-330],[-133,-450],[-141,-700],[-136,-160],[-147,-560],[-129,-270],[-240,-300],[-206,-700],[-173,-590],[-226,-560],[-244,-40],[-212,-60],[-187,-30],[-236,-680],[-201,-410],[-169,-250],[-221,-500],[-246,-250],[-191,-640],[-230,-40],[-155,-690],[-217,-150],[-243,-460],[-182,-520]
];
const evMuKPlusKMinus = [
[-249,-380],[-247,-620],[-246,-150],[-244,-480],[-242,-270],[-241,-700],[-239,-80],[-237,-550],[-236,-320],[-234,-440],[-232,-190],[-231,-640],[-229,-380],[-227,-60],[-226,-520],[-224,-260],[-222,-700],[-221,-420],[-219,-130],[-217,-580],[-216,-330],[-214,-480],[-212,-220],[-211,-660],[-209,-40],[-207,-400],[-206,-560],[-204,-180],[-202,-720],[-201,-300],
[-248,-520],[-243,-200],[-238,-680],[-233,-560],[-228,-120],[-223,-460],[-218,-40],[-213,-600],[-208,-280],[-203,-500],[-245,-720],[-235,-20],[-225,-360],[-215,-700],[-205,-620],
[-199,-440],[-197,-100],[-195,-600],[-193,-330],[-191,-210],[-189,-690],[-187,-480],[-185,-60],[-183,-380],[-181,-560],[-179,-250],[-177,-720],[-175,-140],[-173,-500],[-171,-310],[-169,-620],[-167,-30],[-165,-420],[-163,-540],[-161,-200],[-159,-680],[-157,-350],[-155,-470],[-153,-110],
[-198,-260],[-192,-520],[-186,-700],[-180,-150],[-174,-400],[-168,-590],[-162,-300],[-156,-640],[-194,-20],[-184,-450],[-176,-560],[-166,-230],[-158,-30],[-152,-540],[-188,-260],[-170,-120],
[-149,-400],[-146,-620],[-143,-180],[-140,-500],[-137,-290],[-134,-700],[-131,-80],[-128,-440],[-125,-560],[-122,-230],[-119,-660],[-116,-360],[-113,-120],[-110,-490],[-107,-600],[-104,-30],[-101,-300],
[-147,-260],[-139,-580],[-132,-360],[-124,-40],[-117,-520],[-109,-220],[-102,-690],[-144,-720],[-129,-620],[-114,-420],
[-98,-480],[-95,-200],[-92,-620],[-89,-340],[-86,-100],[-83,-560],[-80,-420],[-77,-700],[-74,-270],[-71,-50],[-68,-510],[-65,-390],[-62,-640],[-59,-160],[-56,-440],[-53,-580],[-50,-310],[-47,-80],[-94,-700],[-84,-300],[-72,-160],[-60,-720],
[-40,-620],[-33,-260],[-26,-480],[-19,-80],[-11,-560],[-4,-380],[5,-690],[12,-150],[20,-450],[28,-620],[36,-20],[44,-330],[52,-560],[60,140],[68,-250],[76,-680],[84,-420],[92,-100],[100,-560],[108,-300],[116,-700],[124,60],[132,-470],[140,-200],[148,-610],[156,-360],[164,100],[172,-530],[180,-160],[188,-700],[196,-410],[204,-240],[212,190],[220,-590],[228,-60],[236,-330],[244,-500],[-15,-220],[30,-720],[71,-40],[103,-470],[152,-60],[186,-560],[225,-380],[248,-180],
[-236,40],[-215,150],[-193,60],[-174,120],[-152,20],[-131,170],[-108,90],[-88,30],[-66,110],[-46,30],
[-230,-95],[-193,-125],[-244,-155],[-172,-185],[-214,-215],[-238,-245],[-183,-275],[-223,-305],[-156,-335],[-205,-365],[-247,-395],[-176,-425],[-218,-455],[-190,-485],[-234,-515],[-163,-545],[-209,-575],[-249,-605],[-180,-635],[-226,-665],[-150,-695],[-199,-725],
[-241,-110],[-207,-170],[-178,-230],[-236,-290],[-196,-350],[-161,-410],[-228,-470],[-246,-530],[-185,-590],[-216,-650],[-166,-710],[-240,-440],[-203,-260],[-173,-560],[-221,-600],[-248,-320],[-188,-200],[-211,-500],[-158,-620],[-233,-680],[-195,-420],[-245,-215],[-170,-330],[-226,-380],[-140,-440],[-135,-580],[-145,-250],[-130,-690]
];
const evMuPlusKMinusKMinus = [
[-246,-450],[-241,-200],[-237,-630],[-232,-330],[-228,-90],[-223,-520],[-219,-700],[-214,-260],[-210,-410],[-205,-600],[-201,-150],[-196,-480],[-192,-680],[-187,-300],[-183,-40],[-178,-560],[-174,-380],[-169,-230],[-165,-650],[-160,-470],[-156,-110],[-151,-600],[-147,-320],[-142,-520],[-138,-180],[-133,-700],[-129,-420],[-124,-280],[-120,-560],[-115,-60],[-111,-380],[-106,-640],[-102,-220],[-97,-480],[-93,-340],[-88,-600],[-84,-150],[-79,-520],[-75,-400],[-70,-690],[-66,-250],[-61,-460],[-57,-580],[-52,-120],[-48,-350],[-43,-640],[-39,-520],[-34,-230],[-28,-700],[-22,-420],
[-10,-560],[3,-680],[12,-130],[22,-470],[35,-620],[47,-240],[58,-560],[70,-40],[82,-430],[95,-600],[108,-200],[120,-500],[133,60],[145,-380],[158,-650],[170,-210],[183,-480],[195,-80],[208,-600],[220,-340],[232,-150],[244,-520],[60,-330],[150,-20],[110,-460]
];

// ---------------- channels ----------------
type Product = [string, string];
type Channel = { id: string; col: 'e' | 'mu'; row: number; products: Product[]; events: number[][]; box: number[] };

const channels: Channel[] = [
  { id: 'e1', col: 'e', row: 0, products: [['e', '-'], ['π', '+'], ['π', '-']], events: evEPiPlusPiMinus, box: boxEPiPlusPiMinus },
  { id: 'e2', col: 'e', row: 1, products: [['e', '+'], ['π', '-'], ['π', '-']], events: evEPlusPiMinusPiMinus, box: boxEPlusPiMinusPiMinus },
  { id: 'e3', col: 'e', row: 2, products: [['e', '-'], ['π', '+'], ['K', '-']], events: evEPiPlusKMinus, box: boxEPiPlusKMinus },
  { id: 'e4', col: 'e', row: 3, products: [['e', '-'], ['π', '-'], ['K', '+']], events: evEPiMinusKPlus, box: boxEPiMinusKPlus },
  { id: 'e5', col: 'e', row: 4, products: [['e', '+'], ['π', '-'], ['K', '-']], events: evEPlusPiMinusKMinus, box: boxEPlusPiMinusKMinus },
  { id: 'e6', col: 'e', row: 5, products: [['e', '-'], ['K', '+'], ['K', '-']], events: evEKPlusKMinus, box: boxEKPlusKMinus },
  { id: 'e7', col: 'e', row: 6, products: [['e', '+'], ['K', '-'], ['K', '-']], events: evEPlusKMinusKMinus, box: boxEPlusKMinusKMinus },
  { id: 'm1', col: 'mu', row: 0, products: [['μ', '-'], ['π', '+'], ['π', '-']], events: evMuPiPlusPiMinus, box: boxMuPiPlusPiMinus },
  { id: 'm2', col: 'mu', row: 1, products: [['μ', '+'], ['π', '-'], ['π', '-']], events: evMuPlusPiMinusPiMinus, box: boxMuPlusPiMinusPiMinus },
  { id: 'm3', col: 'mu', row: 2, products: [['μ', '-'], ['π', '+'], ['K', '-']], events: evMuPiPlusKMinus, box: boxMuPiPlusKMinus },
  { id: 'm4', col: 'mu', row: 3, products: [['μ', '-'], ['π', '-'], ['K', '+']], events: evMuPiMinusKPlus, box: boxMuPiMinusKPlus },
  { id: 'm5', col: 'mu', row: 4, products: [['μ', '+'], ['π', '-'], ['K', '-']], events: evMuPlusPiMinusKMinus, box: boxMuPlusPiMinusKMinus },
  { id: 'm6', col: 'mu', row: 5, products: [['μ', '-'], ['K', '+'], ['K', '-']], events: evMuKPlusKMinus, box: boxMuKPlusKMinus },
  { id: 'm7', col: 'mu', row: 6, products: [['μ', '+'], ['K', '-'], ['K', '-']], events: evMuPlusKMinusKMinus, box: boxMuPlusKMinusKMinus },
];

// ---------------- page layout (px) ----------------
const PAGE_W = 2095;
const PAGE_H = 1367;
const ROWS = [[16, 200], [204, 376], [379, 557], [562, 729], [732, 893], [897, 1058], [1063, 1226]];
const COLS = {
  e: { left: 329, width: 842, axisW: 130, domain: dMDomainE },
  mu: { left: 1174, width: 930, axisW: 24, domain: dMDomainMu },
};
const PAD = 14;

// decay-label placement: x, baseline, fitted width, size factor
const LABELS: Record<string, [number, number, number, number]> = {
  e1: [339, 67, 268, 1.1], e2: [382, 247, 283, 1.1], e3: [377, 435, 300, 1], e4: [378, 618, 317, 1.05],
  e5: [375, 785, 295, 1], e6: [375, 952, 294, 0.97], e7: [383, 1110, 332, 1.1],
  m1: [1232, 70, 333, 1.25], m2: [1214, 253, 336, 1.15], m3: [1220, 437, 315, 1.1], m4: [1232, 617, 318, 1.1],
  m5: [1248, 786, 297, 1.05], m6: [1247, 949, 315, 1.1], m7: [1249, 1107, 281, 0.92],
};

const SANS_BOLD = '"Liberation Sans", Arial, Helvetica, sans-serif';
const SERIF = '"Liberation Serif", "Times New Roman", serif';
const CM_SANS = '"DejaVu Sans", "Noto Sans", sans-serif';

const near = (list: number[], v: number) => list.some((m) => Math.abs(m - v) < 1e-6);
const fmtE = (v: number) => (Math.abs(v) < 1e-9 ? '-0' : v.toFixed(1));
const fmtM = (v: number) => (Math.abs(v) < 1e-9 ? '0' : v.toFixed(1));

const EventDot = (p: any) =>
  p.cx == null ? <g /> : <rect x={p.cx - 1.3} y={p.cy - 1.3} width={2.6} height={2.6} fill="#000" />;

const ETick = (p: any) => {
  const v = p.payload.value;
  const major = near(dELabelled, v);
  return (
    <g>
      <line x1={p.x} x2={p.x + (major ? 23 : 10)} y1={p.y} y2={p.y} stroke="#000" strokeWidth={2.2} />
      {p.showLabel && major ? (
        <text transform={`translate(${p.x - 15},${p.y}) scale(1.4,1)`} textAnchor="end" dy="0.36em"
          fontFamily={SANS_BOLD} fontWeight="bold" fontSize={27} fill="#000">{fmtE(v)}</text>
      ) : null}
    </g>
  );
};

const MTick = (p: any) => {
  const v = p.payload.value;
  const major = near(dMLabelled, v);
  return (
    <g>
      <line x1={p.x} x2={p.x} y1={p.y} y2={p.y - (major ? 8 : 4)} stroke="#000" strokeWidth={2} />
      {p.showLabel && major ? (
        <text transform={`translate(${p.x},${p.y + 52}) scale(1.28,1)`} textAnchor="middle"
          fontFamily={SANS_BOLD} fontWeight="bold" fontSize={53} fill="#000">{fmtM(v)}</text>
      ) : null}
    </g>
  );
};

function Panel({ ch }: { ch: Channel }) {
  const col = COLS[ch.col];
  const [top, bot] = ROWS[ch.row];
  const plotH = bot - top;
  const bottomRow = ch.row === ROWS.length - 1;
  const xAxisH = bottomRow ? 90 : 1;
  const width = col.axisW + col.width + PAD;
  const height = PAD + plotH + xAxisH + PAD;
  const data = ch.events.map(([m, e]) => ({ dM: m / 1000, dE: e / 1000 }));
  const showY = ch.col === 'e';
  return (
    <div style={{ position: 'absolute', left: col.left - col.axisW, top: top - PAD }}>
      <ScatterChart width={width} height={height} margin={{ top: PAD, right: PAD, bottom: PAD, left: 0 }}>
        <XAxis type="number" dataKey="dM" domain={col.domain} ticks={dMTicks} interval={0} allowDataOverflow
          height={xAxisH} tickSize={0} tickMargin={0} tickLine={false} axisLine={false}
          tick={(p: any) => <MTick {...p} showLabel={bottomRow} />} />
        <YAxis type="number" dataKey="dE" domain={dEDomain} ticks={dETicks} interval={0} allowDataOverflow
          width={col.axisW} tickSize={0} tickMargin={0} tickLine={false} axisLine={false}
          tick={(p: any) => <ETick {...p} showLabel={showY} />} />
        <ReferenceArea x1={ch.box[0]} x2={ch.box[1]} y1={ch.box[2]} y2={ch.box[3]} ifOverflow="visible"
          fill="none" stroke="#000" strokeWidth={3.5} strokeDasharray="3.5 4.5" />
        <Scatter data={data} fill="#000" shape={EventDot} isAnimationActive={false} />
        <ReferenceArea x1={col.domain[0]} x2={col.domain[1]} y1={dEDomain[0]} y2={dEDomain[1]} ifOverflow="visible"
          fill="none" stroke="#000" strokeWidth={6} />
      </ScatterChart>
    </div>
  );
}

// text stretched horizontally to a given width
function FitText({ x, y, width, children }: { x: number; y: number; width: number; children: React.ReactNode }) {
  const ref = useRef<SVGTextElement>(null);
  const [fit, setFit] = useState({ s: 1, ox: 0 });
  useLayoutEffect(() => {
    const el = ref.current;
    if (!el) return;
    const bb = el.getBBox();
    if (bb.width > 0) setFit({ s: width / bb.width, ox: bb.x });
  }, [width]);
  return (
    <g transform={`translate(${x - fit.ox * fit.s},${y}) scale(${fit.s},1)`}>
      <text ref={ref} x={0} y={0} fill="#000">{children}</text>
    </g>
  );
}

type Piece = { t: string; font: string; size: number; weight?: string; italic?: boolean; raise?: number; dx?: number };

function pieces(list: Piece[]) {
  let cur = 0;
  return list.map((p, i) => {
    const off = -(p.raise || 0);
    const dy = off - cur;
    cur = off;
    return (
      <tspan key={i} dx={p.dx || 0} dy={dy} fontFamily={p.font} fontSize={p.size}
        fontWeight={p.weight || 'normal'} fontStyle={p.italic ? 'italic' : 'normal'}>{p.t}</tspan>
    );
  });
}

function DecayLabel({ ch }: { ch: Channel }) {
  const [x, y, w, k] = LABELS[ch.id];
  const g = 46 * k, b = 38 * k, s = 26 * k, r = 21 * k, gap = 6 * k;
  const list: Piece[] = [
    { t: 'τ', font: SERIF, size: g },
    { t: '-', font: SANS_BOLD, size: s, weight: 'bold', raise: r },
    { t: '→', font: SERIF, size: g * 1.05, dx: gap },
  ];
  ch.products.forEach(([name, charge]) => {
    const greek = name === 'π' || name === 'μ';
    list.push({ t: name, font: greek ? SERIF : SANS_BOLD, size: greek ? g : b, weight: greek ? 'normal' : 'bold', dx: gap });
    list.push({ t: charge, font: SANS_BOLD, size: s, weight: 'bold', raise: r });
  });
  return <FitText x={x} y={y} width={w}>{pieces(list)}</FitText>;
}

export default function App() {
  return (
    <div style={{ position: 'absolute', left: 0, top: 0, width: PAGE_W, height: PAGE_H, overflow: 'hidden', background: '#fff' }}>
      {channels.map((ch) => <Panel key={ch.id} ch={ch} />)}
      <svg width={PAGE_W} height={PAGE_H} style={{ position: 'absolute', left: 0, top: 0, pointerEvents: 'none' }}>
        {channels.map((ch) => <DecayLabel key={ch.id} ch={ch} />)}
        <FitText x={16} y={322} width={218}>
          {pieces([
            { t: 'Δ', font: SERIF, size: 60 },
            { t: 'E', font: SERIF, size: 60, italic: true },
            { t: 'CM', font: SERIF, size: 43, italic: true, raise: 25 },
          ])}
        </FitText>
        <FitText x={17} y={396} width={193}>
          {pieces([{ t: '(GeV)', font: CM_SANS, size: 64 }])}
        </FitText>
        <FitText x={999} y={1350} width={461}>
          {pieces([
            { t: 'Δ', font: SERIF, size: 60 },
            { t: 'M', font: SERIF, size: 60, italic: true },
            { t: '(GeV/', font: CM_SANS, size: 56, dx: 16 },
            { t: 'c', font: SERIF, size: 60, italic: true },
            { t: '2', font: CM_SANS, size: 38, raise: 27 },
            { t: ')', font: CM_SANS, size: 56 },
          ])}
        </FitText>
      </svg>
    </div>
  );
}
